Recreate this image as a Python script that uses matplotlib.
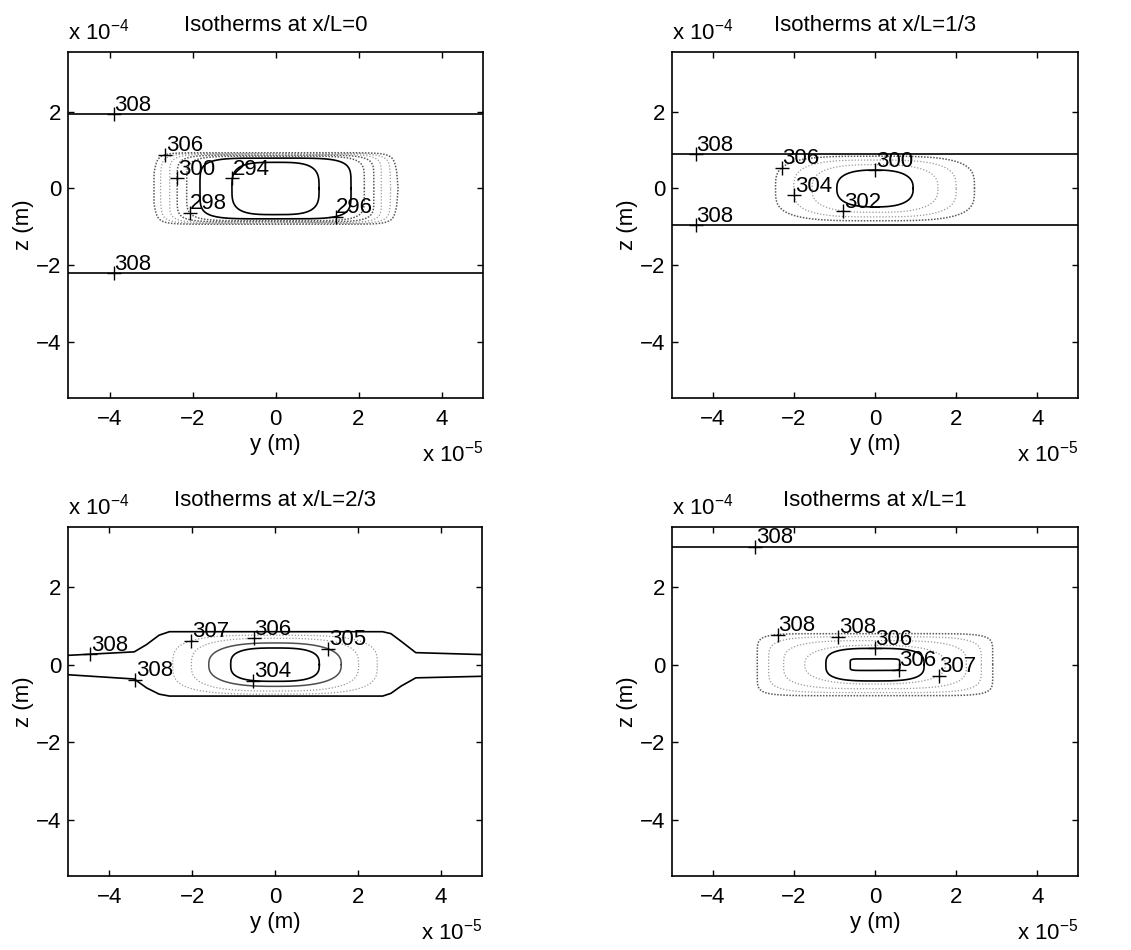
import numpy as np
import matplotlib
matplotlib.use("Agg")
from matplotlib import pyplot as plt

plt.rcParams['font.family'] = ['Liberation Sans', 'DejaVu Sans']
plt.rcParams['mathtext.fontset'] = 'custom'
plt.rcParams['mathtext.rm'] = 'Liberation Sans'
plt.rcParams['font.size'] = 16

# positions: y in units of 1e-5 m, z in units of 1e-4 m
y_range = (-5.0, 5.0)
z_range = (-5.45, 3.55)
y_ticks = [-4, -2, 0, 2, 4]
z_ticks = [-4, -2, 0, 2]

titles = ["Isotherms at x/L=0", "Isotherms at x/L=1/3",
          "Isotherms at x/L=2/3", "Isotherms at x/L=1"]

# x/L = 0 : closed isotherms around the core (half width, half height, squareness, side bulge)
a_levels = [294, 296, 298, 300, 302, 304, 306]
a_half_w = [1.05, 1.82, 2.14, 2.37, 2.55, 2.72, 2.8]
a_half_h = [0.68, 0.79, 0.84, 0.87, 0.89, 0.91, 0.93]
a_power = [3.5, 5, 6, 7, 8, 9, 12]
a_bulge = [0, 0, 0, 0, 0, 0.02, 0.055]
a_shade = ['k', 'k', 'dark', 'dark', 'light', 'light', 'dark']
a_flat_levels = [308, 308]
a_flat_z = [1.93, -2.2]
a_lab_levels = [308, 308, 306, 300, 298, 294, 296]
a_lab_y = [-3.9, -3.9, -2.67, -2.37, -2.14, -1.02, 1.47]
a_lab_z = [1.93, -2.2, 0.91, 0.27, -0.68, 0.27, -0.8]

# x/L = 1/3
b_levels = [300, 302, 304, 306]
b_half_w = [0.94, 1.55, 2.0, 2.45]
b_half_h = [0.48, 0.62, 0.74, 0.84]
b_power = [2.6, 2.8, 3.2, 3.6]
b_bulge = [0, 0, 0, 0]
b_shade = ['k', 'light', 'light', 'dark']
b_flat_levels = [308, 308]
b_flat_z = [0.89, -0.95]
b_lab_levels = [308, 308, 306, 304, 300, 302]
b_lab_y = [-4.42, -4.42, -2.31, -2.01, 0.0, -0.78]
b_lab_z = [0.89, -0.95, 0.55, -0.18, 0.48, -0.6]

# x/L = 2/3
c_levels = [304, 305, 306, 307]
c_half_w = [1.07, 1.6, 2.02, 2.47]
c_half_h = [0.43, 0.56, 0.68, 0.76]
c_power = [3.0, 2.6, 3.0, 3.4]
c_bulge = [0, 0, 0, 0]
c_shade = ['k', 'mid', 'light', 'light']
c_band_level = 308
c_band_y = [-5.0, -3.4, -3.1, -2.8, -2.55, 2.6, 2.8, 3.05, 3.4, 5.0]
c_band_top = [0.24, 0.33, 0.52, 0.76, 0.85, 0.85, 0.8, 0.6, 0.31, 0.26]
c_band_bot = [-0.26, -0.37, -0.6, -0.76, -0.81, -0.81, -0.74, -0.55, -0.34, -0.3]
c_lab_levels = [308, 308, 307, 306, 305, 304]
c_lab_y = [-4.46, -3.37, -2.02, -0.52, 1.28, -0.53]
c_lab_z = [0.25, -0.38, 0.62, 0.68, 0.38, -0.43]

# x/L = 1
d_levels = [305.6, 306.1, 306.6, 307.1, 307.6, 308.1]
d_half_w = [0.61, 1.21, 1.73, 2.25, 2.62, 2.9]
d_half_h = [0.15, 0.42, 0.5, 0.62, 0.72, 0.8]
d_power = [8, 3.2, 2.6, 3.5, 5, 8]
d_bulge = [0, 0, 0, 0, 0, 0]
d_shade = ['k', 'k', 'light', 'light', 'light', 'dark']
d_flat_levels = [308.1]
d_flat_z = [3.04]
d_lab_levels = [308.1, 308.1, 307.6, 306.1, 305.6, 306.6]
d_lab_y = [-2.95, -2.4, -0.9, 0.0, 0.57, 1.68]
d_lab_z = [3.04, 0.78, 0.72, 0.45, -0.1, -0.47]

STYLE = {
    'k': dict(color='k', lw=1.2, ls='-'),
    'mid': dict(color='0.3', lw=1.1, ls='-'),
    'dark': dict(color='0.35', lw=1.1, ls=(0, (1, 1))),
    'light': dict(color='0.6', lw=0.9, ls=(0, (1, 1.5))),
}


def closed_curve(hw, hh, p, bulge, n=600):
    t = np.linspace(0, 2 * np.pi, n)
    c, s = np.cos(t), np.sin(t)
    z = hh * np.sign(s) * np.abs(s) ** (2.0 / p)
    y = hw * np.sign(c) * np.abs(c) ** (2.0 / p) * (1 + bulge * (1 - (z / hh) ** 2))
    return y, z


def flat_curve(z):
    y = np.linspace(y_range[0], y_range[1], 200)
    return y, np.full_like(y, z)


def build_curves(levels, half_w, half_h, power, bulge, shade, flat_levels=(), flat_z=()):
    curves = []
    for lev, hw, hh, p, bg, sh in zip(levels, half_w, half_h, power, bulge, shade):
        y, z = closed_curve(hw, hh, p, bg)
        curves.append((lev, y, z, sh))
    for lev, zz in zip(flat_levels, flat_z):
        y, z = flat_curve(zz)
        curves.append((lev, y, z, 'k'))
    return curves


def dense(y, z, step=0.01):
    # resample a polyline along its length, used for placing the "+" on it
    seg = np.hypot(np.diff(y), np.diff(z))
    s = np.concatenate([[0], np.cumsum(seg)])
    ss = np.arange(0, s[-1], step)
    return np.interp(ss, s, y), np.interp(ss, s, z)


def draw_panel(ax, title, curves, lab_levels, lab_y, lab_z):
    for lev, y, z, sh in curves:
        ax.plot(y, z, **STYLE[sh])

    # clabel style: "+" on the isotherm, value written above right of it
    for lev, ly, lz in zip(lab_levels, lab_y, lab_z):
        best = None
        for clev, y, z, sh in curves:
            if clev != lev:
                continue
            yy, zz = dense(y, z)
            d = (yy - ly) ** 2 + (zz - lz) ** 2
            i = np.argmin(d)
            if best is None or d[i] < best[0]:
                best = (d[i], yy[i], zz[i])
        _, py, pz = best
        ax.plot(py, pz, '+', color='k', ms=10, mew=1.0, zorder=5)
        ax.annotate("%.3g" % lev, (py, pz), xytext=(0.5, 2.5), textcoords='offset points',
                    ha='left', va='baseline', fontsize=16, zorder=6)

    ax.set_xlim(y_range)
    ax.set_ylim(z_range)
    ax.set_xticks(y_ticks)
    ax.set_yticks(z_ticks)
    ax.tick_params(direction='in', top=True, right=True, length=4, width=1.0)
    ax.tick_params(axis='x', pad=8)
    ax.tick_params(axis='y', pad=5)
    for sp in ax.spines.values():
        sp.set_linewidth(1.2)
    ax.set_xlabel("y (m)", labelpad=3)
    ax.set_ylabel("z (m)", labelpad=1)
    ax.annotate(title, xy=(0.5, 1), xycoords='axes fraction', xytext=(0, 15),
                textcoords='offset points', ha='center', va='baseline')
    ax.annotate(r"x 10$^{-4}$", xy=(0, 1), xycoords='axes fraction', xytext=(0, 9),
                textcoords='offset points', ha='left', va='baseline')
    ax.annotate(r"x 10$^{-5}$", xy=(1, 0), xycoords='axes fraction', xytext=(0, -46),
                textcoords='offset points', ha='right', va='baseline')


W, H = 1131, 950
fig = plt.figure(figsize=(W / 100, H / 100), dpi=100)
boxes = [(68, 52, 483, 398), (672, 52, 1078, 398),
         (68, 527, 482, 876), (672, 527, 1078, 876)]
axs = []
for l, t, r, b in boxes:
    axs.append(fig.add_axes([l / W, 1 - b / H, (r - l) / W, (b - t) / H]))

curves_a = build_curves(a_levels, a_half_w, a_half_h, a_power, a_bulge, a_shade,
                        a_flat_levels, a_flat_z)
curves_b = build_curves(b_levels, b_half_w, b_half_h, b_power, b_bulge, b_shade,
                        b_flat_levels, b_flat_z)
curves_c = build_curves(c_levels, c_half_w, c_half_h, c_power, c_bulge, c_shade)
by = np.array(c_band_y)
curves_c.append((c_band_level, by, np.array(c_band_top), 'k'))
curves_c.append((c_band_level, by, np.array(c_band_bot), 'k'))
curves_d = build_curves(d_levels, d_half_w, d_half_h, d_power, d_bulge, d_shade,
                        d_flat_levels, d_flat_z)

draw_panel(axs[0], titles[0], curves_a, a_lab_levels, a_lab_y, a_lab_z)
draw_panel(axs[1], titles[1], curves_b, b_lab_levels, b_lab_y, b_lab_z)
draw_panel(axs[2], titles[2], curves_c, c_lab_levels, c_lab_y, c_lab_z)
draw_panel(axs[3], titles[3], curves_d, d_lab_levels, d_lab_y, d_lab_z)

fig.savefig("out.png", dpi=100)
